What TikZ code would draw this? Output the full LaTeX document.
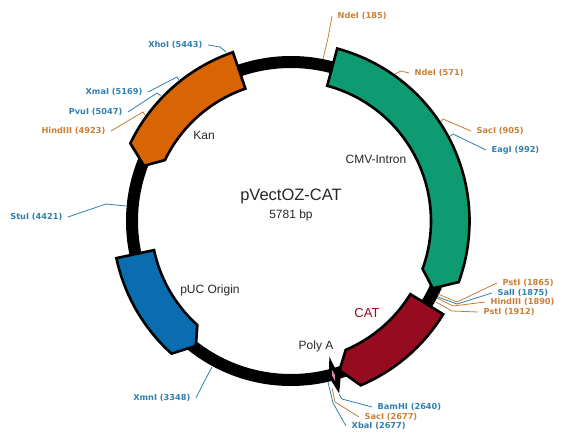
\documentclass[tikz,border=0pt]{standalone}
\usepackage{fontspec}
\setmainfont{Liberation Sans}
\newfontfamily\sitefont{DejaVu Sans}[Scale=1]
\usepackage{tikz}
\usetikzlibrary{calc, positioning}
\definecolor{sitebraun}{HTML}{C97F35}
\definecolor{siteblau}{HTML}{2F80AE}
\definecolor{gruen}{HTML}{0E9B72}
\definecolor{orangeblock}{HTML}{D96403}
\definecolor{blaublock}{HTML}{0A6DB0}
\definecolor{rotblock}{HTML}{950B20}
\tikzset{
  sitelabel/.style={font=\sitefont\bfseries\fontsize{8.2}{9}\selectfont, inner xsep=5.5pt, inner ysep=1pt},
  leader/.style={line width=0.8pt},
  geneblock/.style={draw=black, line width=2.6pt, line join=miter},
  genelabel/.style={font=\fontsize{12}{14}\selectfont, text=black!85},
}
\begin{document}
\begin{tikzpicture}[x=1pt, y=-1pt]
  \useasboundingbox (0,0) rectangle (574,437);

  % Ring
  \draw[line width=12pt, black] (291,221) circle[radius=159pt];

  % Schnittstellen
  \foreach \lname/\lcol/\lanc/\lx/\ly/\ltxt in {
      ndeA/sitebraun/west/332/16/NdeI (185),
      ndeB/sitebraun/west/409/73/NdeI (571),
      sacA/sitebraun/west/471/131/SacI (905),
      eag/siteblau/west/486/150/EagI (992),
      pstA/sitebraun/west/497/283/PstI (1865),
      sal/siteblau/west/492/293/SalI (1875),
      hindA/sitebraun/west/485/302/HindIII (1890),
      pstB/sitebraun/west/478/312/PstI (1912),
      bam/siteblau/west/372/407/BamHI (2640),
      sacB/sitebraun/west/359/417/SacI (2677),
      xba/siteblau/west/346/426/XbaI (2677),
      xho/siteblau/east/208/45/XhoI (5443),
      xma/siteblau/east/148/92/XmaI (5169),
      pvu/siteblau/east/128/112/PvuI (5047),
      hindB/sitebraun/east/111/131/HindIII (4923),
      stu/siteblau/east/68/217/StuI (4421),
      xmn/siteblau/east/196/398/XmnI (3348)} {
    \node[sitelabel, text=\lcol, anchor=\lanc] (\lname) at (\lx,\ly) {\ltxt};
  }

  % Linien: Label -> Knick -> Ring
  \foreach \lname/\lcol/\lanc/\bx/\by/\ex/\ey in {
      ndeA/sitebraun/west/328/38/323/59,
      ndeB/sitebraun/west/401/71/395/74,
      sacA/sitebraun/west/443/119/440/123,
      eag/siteblau/west/453/134/449/137,
      pstA/sitebraun/west/457/302/438/294,
      sal/siteblau/west/457/304/438/297,
      hindA/sitebraun/west/453/306/437/298,
      pstB/sitebraun/west/452/311/436/302,
      bam/siteblau/west/342/399/339/394,
      sacB/sitebraun/west/335/402/332/388,
      xba/siteblau/west/333/403/328/382,
      xho/siteblau/east/220/47/226/52,
      xma/siteblau/east/177/77/179/80,
      pvu/siteblau/east/157/93/161/96,
      hindB/sitebraun/east/143/112/145/115,
      stu/siteblau/east/106/204/126/206,
      xmn/siteblau/east/204/382/212/367} {
    \coordinate (\lname end) at (\ex,\ey);
    \draw[leader, \lcol] (\lname.\lanc) -- (\bx,\by) -- (\lname end);
  }

  % Gene, Winkel um die Ringmitte
  \begin{scope}[shift={(291,221)}, y=1pt]
    \foreach \blockcol/\sa/\ea/\ta in {
        gruen/75/-20/-25.4,
        rotblock/-31.5/-67/-72,
        blaublock/192/228/232.7,
        orangeblock/109/154.2/159.4} {
      \draw[geneblock, fill=\blockcol]
        (\sa:178.5) arc[start angle=\sa, end angle=\ea, radius=178.5pt]
        -- (\ta:157) -- (\ea:140)
        arc[start angle=\ea, end angle=\sa, radius=140pt] -- cycle;
    }
    % Poly A
    \fill[black] (-74.2:141) -- (-73.4:153) -- (-72:160) -- (-72.8:167) -- (-74.4:179)
      -- (-75.6:167) -- (-76.5:160) -- (-75.6:153) -- cycle;
    \fill[pink!70!violet] (-74.6:154) -- (-74.1:160) -- (-74.6:166) -- (-75.1:160) -- cycle;
  \end{scope}

  \node[font=\fontsize{16.5}{19}\selectfont, text=black!85] (titel) at (291,196) {pVectOZ-CAT};
  \node[font=\fontsize{12}{14}\selectfont, text=black!85] (groesse) at (291,215) {5781 bp};
  \node[genelabel] (cmv) at (376,159) {CMV-Intron};
  \node[genelabel] (kan) at (204,135) {Kan};
  \node[genelabel] (puc) at (210,290) {pUC Origin};
  \node[genelabel, text=rotblock, font=\fontsize{13}{15}\selectfont] (cat) at (367,313) {CAT};
  \node[genelabel] (polya) at (316,346) {Poly A};
\end{tikzpicture}
\end{document}
